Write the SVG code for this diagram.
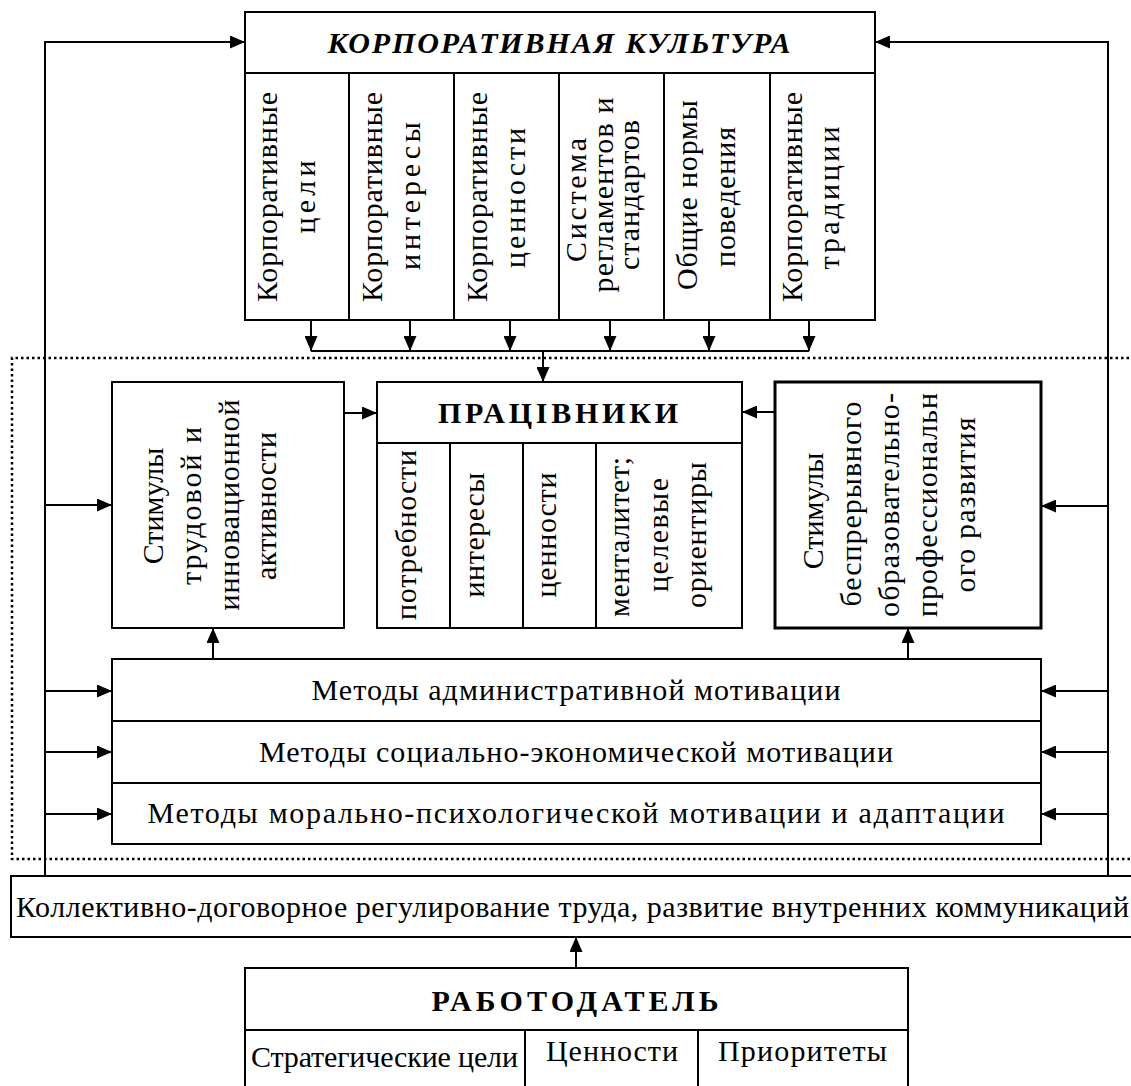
<svg xmlns="http://www.w3.org/2000/svg" width="1131" height="1086" viewBox="0 0 1131 1086" font-family="Liberation Serif, Times New Roman, DejaVu Serif, serif">
<style>
  .bx { fill: #fff; stroke: #000; stroke-width: 2; }
  .bx3 { fill: #fff; stroke: #000; stroke-width: 3; }
  .ln { fill: none; stroke: #000; stroke-width: 2; }
  .cn { fill: none; stroke: #000; stroke-width: 2; marker-end: url(#ah); }
  .dot { fill: none; stroke: #000; stroke-width: 2.5; stroke-dasharray: 2.5 3; }
  text { font-size: 30px; fill: #000; }
  .m { text-anchor: middle; }
  .b { font-weight: bold; }
</style>
<defs>
  <marker id="ah" markerUnits="userSpaceOnUse" markerWidth="15" markerHeight="13" refX="15" refY="6.5" orient="auto">
    <path d="M0,0 L15,6.5 L0,13 z" fill="#000"/>
  </marker>
</defs>

<path class="dot" d="M1140,358 H12 V859 H1140"/>

<g id="connectors">
  <path class="cn" d="M45,876 V42 H245"/>
  <path class="cn" d="M1108,876 V42 H875"/>
  <path class="cn" d="M45,505 H112"/>
  <path class="cn" d="M45,691 H112"/>
  <path class="cn" d="M45,752 H112"/>
  <path class="cn" d="M45,814 H112"/>
  <path class="cn" d="M1108,506 H1041"/>
  <path class="cn" d="M1108,691 H1041"/>
  <path class="cn" d="M1108,752 H1041"/>
  <path class="cn" d="M1108,814 H1041"/>
  <path class="cn" d="M311,320 V351"/>
  <path class="cn" d="M410,320 V351"/>
  <path class="cn" d="M510,320 V351"/>
  <path class="cn" d="M610,320 V351"/>
  <path class="cn" d="M709,320 V351"/>
  <path class="cn" d="M809,320 V351"/>
  <path class="ln" d="M311,351 H809"/>
  <path class="cn" d="M543,351 V382"/>
  <path class="cn" d="M344,413 H377"/>
  <path class="cn" d="M775,412 H742"/>
  <path class="cn" d="M213,659 V628"/>
  <path class="cn" d="M908,659 V628"/>
  <path class="cn" d="M576,968 V937"/>
</g>

<g id="corp-culture">
  <rect class="bx" x="245" y="12" width="630" height="308"/>
  <path class="ln" d="M245,73 H875 M349,73 V320 M454,73 V320 M559,73 V320 M664,73 V320 M770,73 V320"/>
  <text class="m b" x="559" y="53" font-style="italic" font-size="32" textLength="463">КОРПОРАТИВНАЯ КУЛЬТУРА</text>
  <text class="m" transform="translate(277,197) rotate(-90)" textLength="210">Корпоративные</text>
  <text class="m" transform="translate(315,197) rotate(-90)" textLength="73">цели</text>
  <text class="m" transform="translate(382,197) rotate(-90)" textLength="210">Корпоративные</text>
  <text class="m" transform="translate(420,196) rotate(-90)" textLength="148">интересы</text>
  <text class="m" transform="translate(487,197) rotate(-90)" textLength="210">Корпоративные</text>
  <text class="m" transform="translate(525,198) rotate(-90)" textLength="140">ценности</text>
  <text class="m" transform="translate(586,200) rotate(-90)" textLength="124">Система</text>
  <text class="m" transform="translate(613,195) rotate(-90)" textLength="195">регламентов и</text>
  <text class="m" transform="translate(639,195) rotate(-90)" textLength="150">стандартов</text>
  <text class="m" transform="translate(697,195) rotate(-90)" textLength="190">Общие нормы</text>
  <text class="m" transform="translate(735,197) rotate(-90)" textLength="140">поведения</text>
  <text class="m" transform="translate(802,197) rotate(-90)" textLength="210">Корпоративные</text>
  <text class="m" transform="translate(839,198) rotate(-90)" textLength="143">традиции</text>
</g>

<g id="stim-labor">
  <rect class="bx" x="112" y="382" width="232" height="246"/>
  <text class="m" transform="translate(163,506) rotate(-90)">Стимулы</text>
  <text class="m" transform="translate(201,506) rotate(-90)" textLength="158">трудовой  и</text>
  <text class="m" transform="translate(239,505) rotate(-90)" textLength="211">инновационной</text>
  <text class="m" transform="translate(276,506) rotate(-90)" textLength="148">активности</text>
</g>

<g id="workers">
  <rect class="bx" x="377" y="382" width="365" height="246"/>
  <path class="ln" d="M377,443 H742 M450,443 V628 M523,443 V628 M596,443 V628"/>
  <text class="m b" x="558" y="423" textLength="240">ПРАЦІВНИКИ</text>
  <text class="m" transform="translate(416,535) rotate(-90)" textLength="170">потребности</text>
  <text class="m" transform="translate(484,535) rotate(-90)" textLength="125">интересы</text>
  <text class="m" transform="translate(556,535) rotate(-90)" textLength="125">ценности</text>
  <text class="m" transform="translate(629,537) rotate(-90)" textLength="160">менталитет;</text>
  <text class="m" transform="translate(668,535) rotate(-90)" textLength="114">целевые</text>
  <text class="m" transform="translate(706,535) rotate(-90)" textLength="146">ориентиры</text>
</g>

<g id="stim-edu">
  <rect class="bx3" x="775" y="382" width="266" height="246"/>
  <text class="m" transform="translate(823,511) rotate(-90)">Стимулы</text>
  <text class="m" transform="translate(861,504) rotate(-90)" textLength="205">беспрерывного</text>
  <text class="m" transform="translate(899,505) rotate(-90)" textLength="224">образовательно-</text>
  <text class="m" transform="translate(937,505) rotate(-90)" textLength="224">профессиональн</text>
  <text class="m" transform="translate(975,505) rotate(-90)" textLength="175">ого развития</text>
</g>

<g id="methods">
  <rect class="bx" x="112" y="659" width="929" height="185"/>
  <path class="ln" d="M112,721 H1041 M112,783 H1041"/>
  <text class="m" x="576" y="700" textLength="529">Методы административной мотивации</text>
  <text class="m" x="576" y="762" textLength="634">Методы социально-экономической мотивации</text>
  <text class="m" x="576" y="823" textLength="857">Методы морально-психологической мотивации и адаптации</text>
</g>

<g id="collective">
  <rect class="bx" x="11" y="876" width="1130" height="61"/>
  <text x="16" y="917" textLength="1113">Коллективно-договорное регулирование труда, развитие внутренних коммуникаций</text>
</g>

<g id="employer">
  <rect class="bx" x="245" y="968" width="663" height="140"/>
  <path class="ln" d="M245,1030 H908 M525,1030 V1100 M698,1030 V1100"/>
  <text class="m b" x="575" y="1011" textLength="287">РАБОТОДАТЕЛЬ</text>
  <text x="251" y="1067" textLength="267">Стратегические цели</text>
  <text x="546" y="1061" textLength="132">Ценности</text>
  <text x="718" y="1061" textLength="169">Приоритеты</text>
</g>
</svg>
